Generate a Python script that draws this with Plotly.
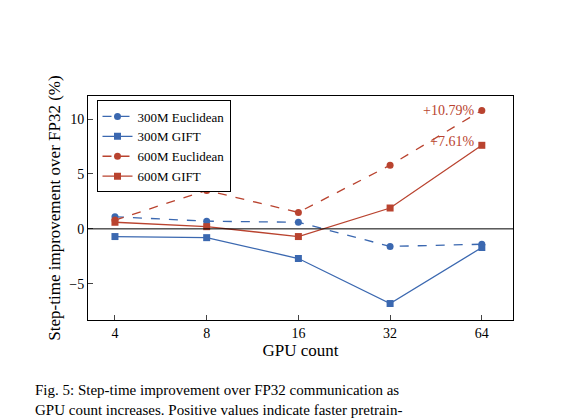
import math
import plotly.graph_objects as go

gpus = [4, 8, 16, 32, 64]
e300 = [1.1, 0.7, 0.6, -1.6, -1.4]
g300 = [-0.7, -0.8, -2.7, -6.8, -1.7]
e600 = [0.8, 3.5, 1.5, 5.8, 10.79]
g600 = [0.6, 0.2, -0.7, 1.9, 7.61]

xs = [math.log2(g) for g in gpus]
blue = "#3b68b0"
red = "#b9432f"
font = "Liberation Serif"

fig = go.Figure()
series = [
    ("300M Euclidean", e300, blue, "dash", "circle"),
    ("300M GIFT", g300, blue, "solid", "square"),
    ("600M Euclidean", e600, red, "dash", "circle"),
    ("600M GIFT", g600, red, "solid", "square"),
]
for name, ys, col, dash, sym in series:
    fig.add_trace(go.Scatter(
        x=xs, y=ys, name=name, mode="lines+markers",
        line=dict(color=col, width=1.3, dash=dash),
        marker=dict(color=col, symbol=sym, size=7),
    ))

fig.add_hline(y=0, line=dict(color="black", width=1))

fig.add_annotation(x=xs[-1], y=e600[-1], text=f"+{e600[-1]:.2f}%", showarrow=False,
                   xanchor="right", xshift=-6, font=dict(color=red, size=14, family=font))
fig.add_annotation(x=xs[-1], y=g600[-1], text=f"+{g600[-1]:.2f}%", showarrow=False,
                   xanchor="right", xshift=-6, yshift=4,
                   font=dict(color=red, size=14, family=font))

fig.add_annotation(x=-0.13, y=-0.27, xref="paper", yref="paper", xanchor="left", yanchor="top",
                   showarrow=False, align="left",
                   text="Fig. 5: Step-time improvement over FP32 communication as<br>"
                        "GPU count increases. Positive values indicate faster pretrain-",
                   font=dict(size=15, family=font, color="black"))

fig.update_layout(
    width=580, height=420,
    margin=dict(l=80, r=75, t=88, b=108, autoexpand=False),
    plot_bgcolor="white", paper_bgcolor="white",
    font=dict(family=font, size=14, color="black"),
    showlegend=True,
    legend=dict(x=0.02, y=0.98, xanchor="left", yanchor="top",
                bordercolor="black", borderwidth=1, bgcolor="white",
                font=dict(size=13, family=font), tracegroupgap=0),
    xaxis=dict(range=[1.706, 6.34], tickvals=xs, ticktext=[str(g) for g in gpus],
               title=dict(text="GPU count", standoff=4), showgrid=False, automargin=False,
               showline=True, mirror=True, linecolor="black", ticks="inside",
               zeroline=False),
    yaxis=dict(range=[-8.3, 12.1], tickvals=[-5, 0, 5, 10], automargin=False,
               title=dict(text="Step-time improvement over FP32 (%)", standoff=4),
               showgrid=False, showline=True, mirror=True, linecolor="black",
               ticks="inside", zeroline=False),
)

fig.write_html("out.html")
